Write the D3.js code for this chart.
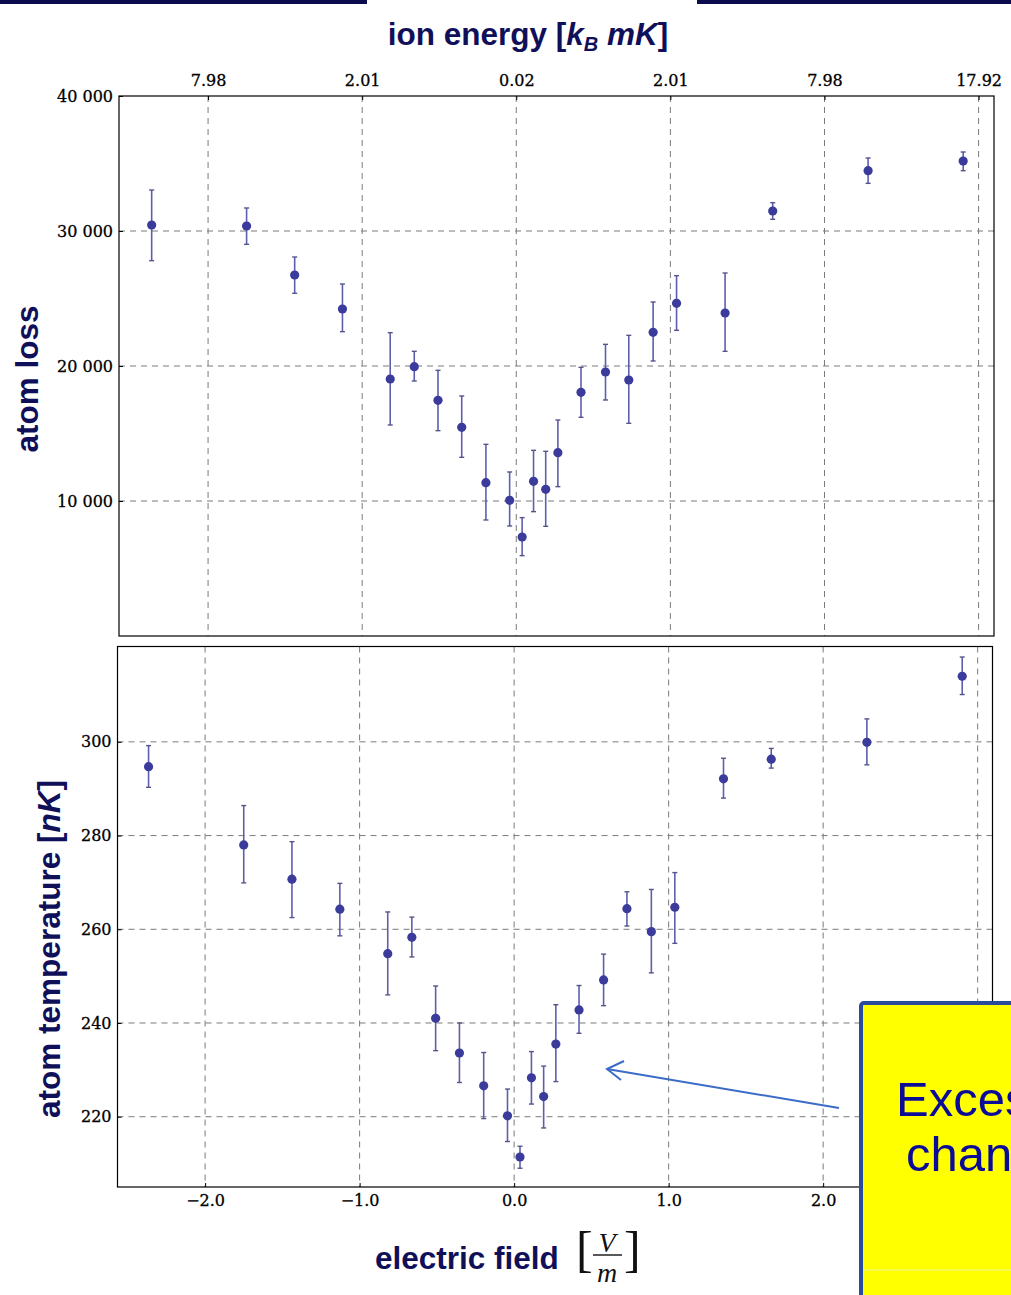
<!DOCTYPE html>
<html>
<head>
<meta charset="utf-8">
<script src="https://cdn.jsdelivr.net/npm/d3@7/dist/d3.min.js"></script>
<style>
  html, body { margin: 0; padding: 0; background: #ffffff; }
  svg { display: block; }
</style>
</head>
<body>
<svg id="chart" width="1011" height="1295"></svg>
<script>
// ---------------- data ----------------
const fieldX = [-2.366, -1.750, -1.438, -1.128, -0.818, -0.662, -0.508, -0.354, -0.197, -0.043,
                0.038, 0.112, 0.191, 0.270, 0.420, 0.579, 0.730, 0.888, 1.040, 1.355, 1.664, 2.283, 2.900];

const lossVal = [30444, 30370, 26741, 24222, 19037, 19951, 17457, 15457, 11358, 10050,
                 7334, 11457, 10865, 13581, 18050, 19556, 18963, 22494, 24642, 23926, 31481, 34469, 35185];
const lossHi  = [33037, 31704, 28074, 26074, 22469, 21087, 19679, 17778, 14198, 12149,
                 8767, 13754, 13679, 16000, 19902, 21605, 22272, 24741, 26692, 26889, 32099, 35407, 35852];
const lossLo  = [27803, 29012, 25383, 22543, 15630, 18889, 15210, 13235, 8593, 8149,
                 5952, 9211, 8124, 11063, 16198, 17482, 15754, 20370, 22642, 21087, 30864, 33531, 34469];

const tempVal = [294.7, 278.0, 270.7, 264.3, 254.8, 258.3, 241.0, 233.6, 226.6, 220.2,
                 211.4, 228.3, 224.3, 235.5, 242.8, 249.2, 264.4, 259.5, 264.7, 292.1, 296.3, 299.9, 314.0];
const tempHi  = [299.2, 286.4, 278.7, 269.8, 263.7, 262.6, 247.9, 240.0, 233.7, 225.9,
                 213.7, 233.9, 230.8, 243.9, 248.0, 254.7, 268.0, 268.5, 272.1, 296.5, 298.6, 304.9, 318.1];
const tempLo  = [290.3, 269.9, 262.5, 258.6, 246.0, 254.1, 234.1, 227.3, 219.6, 214.7,
                 209.0, 222.7, 217.6, 227.5, 237.8, 243.7, 260.7, 250.7, 257.0, 288.0, 294.4, 295.1, 310.1];

const energyTickPos = [-2, -1, 0, 1, 2, 3];
const energyLabels  = ["7.98", "2.01", "0.02", "2.01", "7.98", "17.92"];
const lossTicks  = [10000, 20000, 30000, 40000];
const tempTicks  = [220, 240, 260, 280, 300];
const fieldTicks = [-2, -1, 0, 1, 2];
const gridX      = [-2, -1, 0, 1, 2, 3];

// ---------------- setup ----------------
const svg = d3.select("#chart");
const navy = "#10105a";
const serif = "'DejaVu Serif', 'Liberation Serif', serif";
const sans = "'Liberation Sans', Arial, sans-serif";
const gridColor = "#7a7a7a";
const markColor = "#3b3b9c";
const barColor = "#5e5eae";
const titleSize = 31.5;

// slide top band
svg.append("rect").attr("x", 0).attr("y", 0).attr("width", 367).attr("height", 4).attr("fill", "#0b0b4d");
svg.append("rect").attr("x", 697).attr("y", 0).attr("width", 314).attr("height", 4).attr("fill", "#0b0b4d");

// ---------------- scales ----------------
const xTop = d3.scaleLinear().domain([-2.578, 3.100]).range([119, 994]);
const yTop = d3.scaleLinear().domain([0, 40000]).range([636, 96]);
const xBot = d3.scaleLinear().domain([-2.567, 3.096]).range([117.5, 992.5]);
const yBot = d3.scaleLinear().domain([205.0, 320.35]).range([1187, 646.5]);

function drawPanel(x, y, yTicks, yFmt, vals, hi, lo, name) {
  const g = svg.append("g").attr("class", name);
  const [x0, x1] = x.range();
  const [y1, y0] = y.range();

  // grid
  g.selectAll(".gx").data(gridX).join("line")
    .attr("x1", d => x(d)).attr("x2", d => x(d))
    .attr("y1", y0).attr("y2", y1)
    .attr("stroke", gridColor).attr("stroke-width", 1).attr("stroke-dasharray", "6,5");
  g.selectAll(".gy").data(yTicks.filter(t => y(t) > y0 + 2)).join("line")
    .attr("x1", x0).attr("x2", x1)
    .attr("y1", d => y(d)).attr("y2", d => y(d))
    .attr("stroke", gridColor).attr("stroke-width", 1).attr("stroke-dasharray", "6,5");

  // left axis
  const ax = g.append("g").attr("transform", `translate(${x0},0)`)
    .call(d3.axisLeft(y).tickValues(yTicks).tickFormat(yFmt).tickSizeInner(-4).tickSizeOuter(0).tickPadding(6));
  ax.select(".domain").remove();
  ax.selectAll(".tick line").attr("stroke", "#000");
  ax.selectAll("text").attr("font-family", serif).attr("font-size", 16).attr("fill", "#000")
    .attr("stroke", "#000").attr("stroke-width", 0.3);

  // frame
  g.append("rect").attr("x", x0).attr("y", y0).attr("width", x1 - x0).attr("height", y1 - y0)
    .attr("fill", "none").attr("stroke", "#000").attr("stroke-width", 1.2);

  // error bars
  const idx = d3.range(fieldX.length);
  g.selectAll(".eb").data(idx).join("line")
    .attr("x1", i => x(fieldX[i])).attr("x2", i => x(fieldX[i]))
    .attr("y1", i => y(hi[i])).attr("y2", i => y(lo[i]))
    .attr("stroke", barColor).attr("stroke-width", 1.6);
  g.selectAll(".cap1").data(idx).join("line")
    .attr("x1", i => x(fieldX[i]) - 2.5).attr("x2", i => x(fieldX[i]) + 2.5)
    .attr("y1", i => y(hi[i])).attr("y2", i => y(hi[i]))
    .attr("stroke", "#55558a").attr("stroke-width", 1.4);
  g.selectAll(".cap2").data(idx).join("line")
    .attr("x1", i => x(fieldX[i]) - 2.5).attr("x2", i => x(fieldX[i]) + 2.5)
    .attr("y1", i => y(lo[i])).attr("y2", i => y(lo[i]))
    .attr("stroke", "#55558a").attr("stroke-width", 1.4);
  g.selectAll(".pt").data(idx).join("circle")
    .attr("cx", i => x(fieldX[i])).attr("cy", i => y(vals[i]))
    .attr("r", 4.6).attr("fill", markColor);
  return g;
}

drawPanel(xTop, yTop, lossTicks, d => d3.format(",")(d).replace(",", " "),
  lossVal, lossHi, lossLo, "top");
drawPanel(xBot, yBot, tempTicks, d3.format("d"),
  tempVal, tempHi, tempLo, "bottom");

// top energy axis
const axT = svg.append("g").attr("transform", "translate(0,96)")
  .call(d3.axisTop(xTop).tickValues(energyTickPos).tickFormat((d, i) => energyLabels[i])
    .tickSizeInner(-4).tickSizeOuter(0).tickPadding(10));
axT.select(".domain").remove();
axT.selectAll("text").attr("font-family", serif).attr("font-size", 16).attr("fill", "#000")
  .attr("stroke", "#000").attr("stroke-width", 0.3);

// bottom field axis
const axB = svg.append("g").attr("transform", "translate(0,1187)")
  .call(d3.axisBottom(xBot).tickValues(fieldTicks).tickFormat(d3.format(".1f"))
    .tickSizeInner(-4).tickSizeOuter(0).tickPadding(8));
axB.select(".domain").remove();
axB.selectAll("text").attr("font-family", serif).attr("font-size", 16).attr("fill", "#000")
  .attr("stroke", "#000").attr("stroke-width", 0.3);

// ---------------- titles ----------------
const tTop = svg.append("text").attr("x", 528).attr("y", 45).attr("text-anchor", "middle")
  .attr("font-family", sans).attr("font-weight", "bold").attr("font-size", titleSize).attr("fill", navy);
tTop.append("tspan").text("ion energy [");
tTop.append("tspan").attr("font-style", "italic").text("k");
tTop.append("tspan").attr("font-style", "italic").attr("font-size", 20).attr("dy", 6).text("B");
tTop.append("tspan").attr("font-style", "italic").attr("dy", -6).text(" mK");
tTop.append("tspan").text("]");

svg.append("text").attr("transform", "translate(38,379) rotate(-90)").attr("text-anchor", "middle")
  .attr("font-family", sans).attr("font-weight", "bold").attr("font-size", titleSize).attr("fill", navy)
  .text("atom loss");

const tL = svg.append("text").attr("transform", "translate(60,949) rotate(-90)").attr("text-anchor", "middle")
  .attr("font-family", sans).attr("font-weight", "bold").attr("font-size", titleSize).attr("fill", navy);
tL.append("tspan").text("atom temperature [");
tL.append("tspan").attr("font-style", "italic").text("nK");
tL.append("tspan").text("]");

svg.append("text").attr("x", 375).attr("y", 1269)
  .attr("font-family", sans).attr("font-weight", "bold").attr("font-size", titleSize).attr("fill", navy)
  .text("electric field");
const tSerif = "'Liberation Serif', 'Times New Roman', serif";
svg.append("text").attr("x", 576).attr("y", 1266).attr("font-family", tSerif).attr("font-size", 50)
  .attr("fill", "#111").text("[");
svg.append("text").attr("x", 624).attr("y", 1266).attr("font-family", tSerif).attr("font-size", 50)
  .attr("fill", "#111").text("]");
svg.append("text").attr("x", 607).attr("y", 1252).attr("text-anchor", "middle").attr("font-family", tSerif)
  .attr("font-style", "italic").attr("font-size", 28).attr("fill", "#111").text("V");
svg.append("line").attr("x1", 593).attr("x2", 622).attr("y1", 1255).attr("y2", 1255)
  .attr("stroke", "#111").attr("stroke-width", 1.4);
svg.append("text").attr("x", 607).attr("y", 1282).attr("text-anchor", "middle").attr("font-family", tSerif)
  .attr("font-style", "italic").attr("font-size", 28).attr("fill", "#111").text("m");

// ---------------- annotation ----------------
const arrowColor = "#3a6cc8";
svg.append("line").attr("x1", 839).attr("y1", 1108).attr("x2", 607).attr("y2", 1069)
  .attr("stroke", arrowColor).attr("stroke-width", 2);
svg.append("path").attr("d", "M624,1061 L607,1069 L621,1080")
  .attr("fill", "none").attr("stroke", arrowColor).attr("stroke-width", 2);

svg.append("rect").attr("x", 861).attr("y", 1003).attr("width", 220).attr("height", 330).attr("rx", 3)
  .attr("fill", "#ffff00").attr("stroke", "#2a4b9b").attr("stroke-width", 4);
svg.append("line").attr("x1", 863).attr("x2", 1011).attr("y1", 1270).attr("y2", 1270)
  .attr("stroke", "#f4f49a").attr("stroke-width", 1);
svg.append("text").attr("x", 896).attr("y", 1116).attr("font-family", sans).attr("font-size", 49)
  .attr("fill", "#0b0b9a").text("Excess");
svg.append("text").attr("x", 906).attr("y", 1171).attr("font-family", sans).attr("font-size", 49)
  .attr("fill", "#0b0b9a").text("change");
</script>
</body>
</html>
